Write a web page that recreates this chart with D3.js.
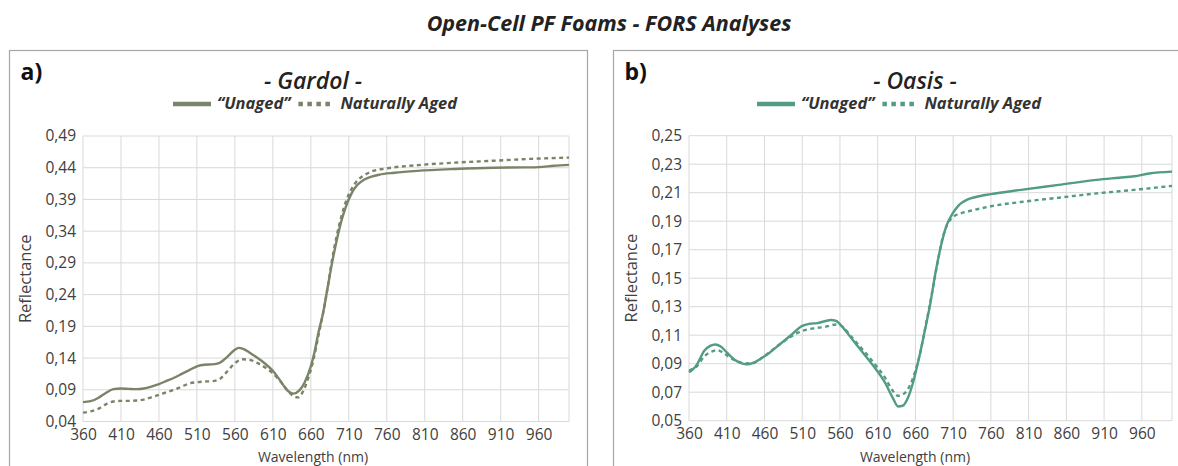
<!DOCTYPE html>
<html>
<head>
<meta charset="utf-8">
<script src="https://cdn.jsdelivr.net/npm/d3@7"></script>
<style>
  body { margin: 0; background: #fff; }
  svg { display: block; font-family: "Open Sans", sans-serif; }
</style>
</head>
<body>
<svg id="chart" width="1178" height="466"></svg>
<script>
// Wavelengths (nm) and reflectance readings, one pair of arrays per curve
const gardolUnagedNm = [360,370,380,390,400,410,420,430,440,450,460,470,480,490,500,510,520,530,540,550,560,565,570,580,590,600,610,620,630,637,645,652,660,665,670,676,682,688,694,700,706,713,720,730,740,750,770,800,850,900,940,960,980,1000];
const gardolUnaged = [0.0705,0.072,0.077,0.085,0.091,0.092,0.0915,0.091,0.092,0.095,0.099,0.104,0.109,0.115,0.121,0.127,0.1295,0.130,0.1325,0.142,0.153,0.156,0.155,0.148,0.140,0.131,0.120,0.104,0.088,0.084,0.089,0.102,0.127,0.15,0.18,0.21,0.25,0.29,0.325,0.355,0.378,0.398,0.411,0.421,0.426,0.429,0.432,0.435,0.438,0.440,0.4405,0.441,0.443,0.4445];

const gardolAgedNm = [360,370,380,390,400,410,420,430,440,450,460,470,480,490,500,510,520,530,540,550,560,570,580,590,600,610,620,630,637,643,650,657,663,670,676,682,688,694,700,706,713,720,730,740,760,800,850,900,950,1000];
const gardolAged = [0.054,0.056,0.060,0.067,0.0715,0.0725,0.0725,0.073,0.0745,0.078,0.082,0.086,0.090,0.095,0.100,0.102,0.103,0.1035,0.107,0.119,0.132,0.138,0.137,0.132,0.125,0.116,0.103,0.088,0.080,0.078,0.088,0.110,0.135,0.175,0.21,0.25,0.295,0.332,0.362,0.386,0.405,0.418,0.428,0.434,0.439,0.444,0.448,0.451,0.454,0.456];

const oasisUnagedNm = [360,365,370,375,380,388,395,402,410,420,430,437,445,455,465,480,495,510,520,530,540,548,555,563,575,590,605,620,630,637,643,650,657,665,672,680,687,694,701,710,718,728,740,760,800,850,900,930,950,970,1000];
const oasisUnaged = [0.084,0.086,0.089,0.094,0.099,0.1025,0.1035,0.102,0.098,0.093,0.0902,0.0895,0.0905,0.0935,0.097,0.1035,0.110,0.1165,0.118,0.1185,0.1198,0.1207,0.120,0.116,0.108,0.098,0.088,0.0765,0.066,0.060,0.0605,0.066,0.077,0.0945,0.112,0.133,0.155,0.173,0.1865,0.196,0.2015,0.205,0.207,0.209,0.212,0.2155,0.219,0.2205,0.2215,0.2235,0.2248];

const oasisAgedNm = [360,365,370,380,390,397,405,415,425,435,445,460,480,495,510,525,540,555,562,575,590,605,620,630,637,645,652,660,667,673,680,688,695,702,710,720,735,760,800,850,900,950,1000];
const oasisAged = [0.085,0.0865,0.088,0.095,0.0985,0.0995,0.0978,0.094,0.0915,0.0902,0.0905,0.0955,0.1035,0.109,0.113,0.1148,0.1158,0.1175,0.1165,0.109,0.100,0.0905,0.080,0.071,0.0675,0.069,0.074,0.085,0.099,0.115,0.134,0.157,0.176,0.1875,0.193,0.1955,0.1975,0.2005,0.2035,0.2065,0.2095,0.212,0.2148];

// Axis ticks
const xTicks = [360,410,460,510,560,610,660,710,760,810,860,910,960];
const gardolYTicks = [0.04,0.09,0.14,0.19,0.24,0.29,0.34,0.39,0.44,0.49];
const oasisYTicks = [0.05,0.07,0.09,0.11,0.13,0.15,0.17,0.19,0.21,0.23,0.25];

const seriesNames = ["\u201CUnaged\u201D", "Naturally Aged"];

const svg = d3.select("#chart");
const fmt = v => d3.format(".2f")(v).replace(".", ",");
const zip = (xs, ys) => xs.map((x, i) => [x, ys[i]]);

svg.append("text")
  .attr("x", 609).attr("y", 31)
  .attr("text-anchor", "middle")
  .attr("font-size", 21.5).attr("font-weight", 700).attr("font-style", "italic")
  .attr("fill", "#222")
  .text("Open-Cell PF Foams - FORS Analyses");

const panels = [
  {
    letter: "a)", name: "- Gardol -", color: "#7a8468",
    box: [9.5, 50.5, 578, 440],
    plot: { left: 83, right: 569, top: 136, bottom: 421.5 },
    yDomain: [0.04, 0.49], yTicks: gardolYTicks,
    legendX: 173, titleX: 313,
    unaged: zip(gardolUnagedNm, gardolUnaged),
    aged: zip(gardolAgedNm, gardolAged)
  },
  {
    letter: "b)", name: "- Oasis -", color: "#529c83",
    box: [613.5, 50.5, 600, 440],
    plot: { left: 689, right: 1172, top: 135.7, bottom: 420.7 },
    yDomain: [0.05, 0.25], yTicks: oasisYTicks,
    legendX: 757, titleX: 915,
    unaged: zip(oasisUnagedNm, oasisUnaged),
    aged: zip(oasisAgedNm, oasisAged)
  }
];

panels.forEach(p => {
  const g = svg.append("g");
  const [bx, by, bw, bh] = p.box;

  g.append("rect")
    .attr("x", bx).attr("y", by).attr("width", bw).attr("height", bh)
    .attr("fill", "none").attr("stroke", "#a6a6a6").attr("stroke-width", 1.2);

  g.append("text")
    .attr("x", bx + 11).attr("y", by + 29)
    .attr("font-size", 23).attr("font-weight", 700).attr("fill", "#111")
    .text(p.letter);

  g.append("text")
    .attr("x", p.titleX).attr("y", by + 38)
    .attr("text-anchor", "middle")
    .attr("font-size", 23).attr("font-weight", 600).attr("font-style", "italic")
    .attr("fill", "#222")
    .text(p.name);

  const x = d3.scaleLinear().domain([360, 1000]).range([p.plot.left, p.plot.right]);
  const y = d3.scaleLinear().domain(p.yDomain).range([p.plot.bottom, p.plot.top]);

  // gridlines
  g.append("g")
    .selectAll("line.v")
    .data(xTicks.concat([1000]))
    .join("line")
    .attr("x1", d => x(d)).attr("x2", d => x(d))
    .attr("y1", p.plot.top).attr("y2", p.plot.bottom)
    .attr("stroke", "#d9d9d9").attr("stroke-width", 1);
  g.append("g")
    .selectAll("line.h")
    .data(p.yTicks)
    .join("line")
    .attr("x1", p.plot.left).attr("x2", p.plot.right)
    .attr("y1", d => y(d)).attr("y2", d => y(d))
    .attr("stroke", "#d9d9d9").attr("stroke-width", 1);

  // axes (labels only, Excel style)
  const xAxis = g.append("g")
    .attr("transform", `translate(0,${p.plot.bottom})`)
    .call(d3.axisBottom(x).tickValues(xTicks).tickSize(0).tickPadding(7).tickFormat(d3.format("d")));
  const yAxis = g.append("g")
    .attr("transform", `translate(${p.plot.left},0)`)
    .call(d3.axisLeft(y).tickValues(p.yTicks).tickSize(0).tickPadding(7).tickFormat(fmt));
  [xAxis, yAxis].forEach(a => {
    a.select(".domain").remove();
    a.selectAll("text").attr("font-size", 15.5).attr("fill", "#404040")
      .attr("font-family", "Open Sans, sans-serif");
  });

  g.append("text")
    .attr("transform", `translate(${p.plot.left - 52},${(p.plot.top + p.plot.bottom) / 2}) rotate(-90)`)
    .attr("text-anchor", "middle")
    .attr("font-size", 16.5).attr("fill", "#404040")
    .text("Reflectance");

  g.append("text")
    .attr("x", p.titleX).attr("y", 462)
    .attr("text-anchor", "middle")
    .attr("font-size", 14).attr("fill", "#404040")
    .text("Wavelength (nm)");

  const line = d3.line()
    .x(d => x(d[0])).y(d => y(d[1]))
    .curve(d3.curveMonotoneX);

  g.append("path")
    .datum(p.aged)
    .attr("d", line)
    .attr("fill", "none").attr("stroke", p.color)
    .attr("stroke-width", 2.4).attr("stroke-dasharray", "4 3.5");

  g.append("path")
    .datum(p.unaged)
    .attr("d", line)
    .attr("fill", "none").attr("stroke", p.color)
    .attr("stroke-width", 2.4);

  // legend
  const ly = 104;
  const lg = g.append("g").attr("font-size", 16.5).attr("font-weight", 700)
    .attr("font-style", "italic").attr("fill", "#333");
  lg.append("line")
    .attr("x1", p.legendX).attr("x2", p.legendX + 38)
    .attr("y1", ly).attr("y2", ly)
    .attr("stroke", p.color).attr("stroke-width", 4.5);
  const t1 = lg.append("text")
    .attr("x", p.legendX + 44).attr("y", ly + 5)
    .text(seriesNames[0]);
  const w1 = t1.node().getComputedTextLength();
  const dx = p.legendX + 44 + w1 + 8;
  lg.append("line")
    .attr("x1", dx).attr("x2", dx + 34)
    .attr("y1", ly).attr("y2", ly)
    .attr("stroke", p.color).attr("stroke-width", 4.5)
    .attr("stroke-dasharray", "4.5 4.5");
  lg.append("text")
    .attr("x", dx + 42).attr("y", ly + 5)
    .text(seriesNames[1]);
});
</script>
</body>
</html>
